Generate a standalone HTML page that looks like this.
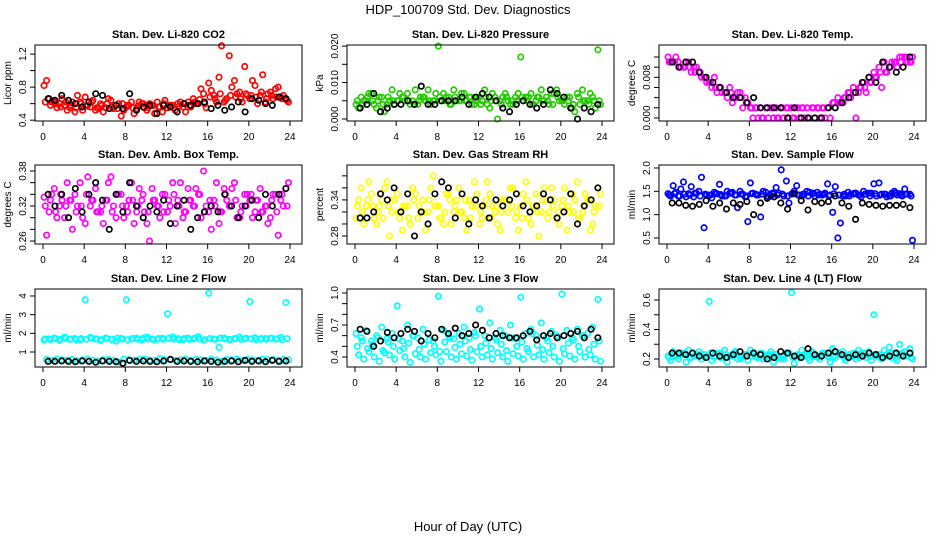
<!DOCTYPE html>
<html><head><meta charset="utf-8">
<style>
html,body{margin:0;padding:0;background:#fff;}
svg{display:block;font-family:"Liberation Sans",Arial,sans-serif;}
</style></head>
<body>
<svg id="chart" width="936" height="540" viewBox="0 0 936 540" xmlns="http://www.w3.org/2000/svg">
<rect width="936" height="540" fill="#fff"/>
<text x="468" y="14" text-anchor="middle" font-size="13">HDP_100709  Std. Dev. Diagnostics</text>
<text x="468" y="531" text-anchor="middle" font-size="13">Hour of Day (UTC)</text>
</svg>
<script>
const xTicks = [0,4,8,12,16,20,24];
const titles = ["Stan. Dev. Li-820 CO2","Stan. Dev. Li-820 Pressure","Stan. Dev. Li-820 Temp.","Stan. Dev. Amb. Box Temp.","Stan. Dev. Gas Stream RH","Stan. Dev. Sample Flow","Stan. Dev. Line 2 Flow","Stan. Dev. Line 3 Flow","Stan. Dev. Line 4 (LT) Flow"];
const yLabels = ["Licor ppm","kPa","degrees C","degrees C","percent","ml/min","ml/min","ml/min","ml/min"];
const colors = ["#ff0000","#22cc00","#ff00ff","#ff00ff","#ffff00","#0000ff","#00ffff","#00ffff","#00ffff"];
const yLims = [[0.39,1.31],[-0.00055,0.0203],[-0.0006,0.01436],[0.2549,0.3903],[0.2667,0.398],[0.371,2.064],[0.196,4.375],[0.306,1.0375],[0.1458,0.6746]];
const yTicks = [[0.4,0.6,0.8,1.0,1.2],[0,0.005,0.01,0.015,0.02],[0,0.002,0.004,0.006,0.008,0.01,0.012],[0.26,0.28,0.30,0.32,0.34,0.36,0.38],[0.28,0.30,0.32,0.34,0.36,0.38],[0.5,1.0,1.5,2.0],[1,2,3,4],[0.4,0.5,0.6,0.7,0.8,0.9,1.0],[0.2,0.3,0.4,0.5,0.6]];
const yTickLabels = [["0.4","","0.8","","1.2"],["0.000","","0.010","","0.020"],["0.000","","","","0.008","",""],["0.26","","","0.32","","","0.38"],["0.28","","","0.34","",""],["0.5","1.0","1.5","2.0"],["1","2","3","4"],["0.4","","","0.7","","","1.0"],["0.2","","0.4","","0.6"]];

const seriesA = [
[0.82,0.66,0.62,0.60,0.58,0.55,0.50,0.62,0.68,0.56,0.52,0.60,0.55,0.64,0.58,0.45,0.56,0.62,0.54,0.60,0.52,0.58,0.62,0.50,0.55,0.58,0.60,0.56,0.62,0.66,0.60,0.72,0.85,0.70,0.92,0.62,1.18,0.88,0.74,1.05,0.66,0.82,0.70,0.62,0.74,0.78,0.68,0.66],
[.004,.006,.005,.007,.003,.006,.004,.008,.005,.006,.007,.005,.004,.006,.008,.005,.020,.007,.006,.008,.005,.007,.006,.004,.006,.008,.003,.006,.005,.007,.004,.006,.017,.006,.007,.005,.008,.006,.007,.008,.005,.006,.003,.007,.008,.005,.006,.019],
[.012,.011,.011,.010,.011,.010,.009,.008,.007,.008,.006,.005,.006,.004,.005,.004,.002,.002,.002,.002,.002,.002,.002,.002,.002,.002,.002,.002,.002,.002,.002,.002,.003,.004,.003,.005,.006,.005,.007,.008,.009,.010,.011,.010,.011,.012,.012,.011],
[.335,.31,.35,.32,.30,.33,.34,.36,.29,.32,.35,.31,.33,.37,.30,.34,.32,.36,.31,.33,.29,.35,.32,.34,.31,.36,.33,.30,.35,.32,.34,.38,.31,.33,.29,.35,.32,.36,.30,.34,.33,.31,.35,.32,.30,.34,.33,.35],
[.31,.36,.33,.35,.30,.34,.37,.32,.35,.29,.33,.36,.31,.34,.32,.38,.33,.30,.35,.32,.36,.31,.34,.37,.30,.33,.35,.32,.29,.34,.36,.31,.33,.37,.30,.35,.32,.34,.36,.31,.33,.29,.35,.37,.32,.34,.30,.36],
[1.45,1.62,1.40,1.70,1.45,1.38,1.50,0.72,1.42,1.48,1.65,1.40,1.46,1.42,1.50,1.38,1.68,1.44,0.95,1.48,1.40,1.58,1.96,1.72,1.44,1.62,1.40,1.50,1.45,1.48,1.42,1.66,1.05,0.50,1.40,1.48,1.44,1.42,1.50,1.46,1.66,1.68,1.44,1.40,1.50,1.45,1.55,1.44],
[1.65,1.70,1.75,1.62,1.80,1.68,1.72,1.65,3.80,1.78,1.70,1.62,1.75,1.68,1.58,1.72,3.80,1.70,1.75,1.65,1.80,1.70,1.68,1.74,3.05,1.80,1.72,1.66,1.75,1.70,1.82,1.64,4.15,1.70,1.25,1.75,1.68,1.72,1.80,1.70,3.70,1.76,1.68,1.72,1.74,1.70,1.78,3.65],
[.62,.58,.65,.55,.60,.68,.57,.62,.88,.55,.70,.60,.58,.66,.62,.55,.97,.65,.60,.57,.62,.68,.58,.63,.85,.60,.72,.58,.65,.60,.70,.57,.96,.62,.66,.60,.72,.58,.64,.60,.99,.65,.58,.66,.60,.62,.68,.94],
[.22,.25,.20,.24,.26,.22,.25,.23,.59,.21,.24,.26,.22,.25,.20,.23,.26,.22,.24,.21,.25,.23,.20,.24,.65,.22,.26,.23,.25,.21,.24,.22,.27,.23,.25,.21,.24,.26,.22,.25,.50,.23,.26,.28,.24,.30,.25,.27]
];
const seriesB = [
[0.88,0.62,0.55,0.66,0.52,0.62,0.70,0.52,0.58,0.64,0.54,0.50,0.66,0.54,0.60,0.52,0.58,0.48,0.62,0.55,0.60,0.48,0.56,0.64,0.58,0.52,0.62,0.50,0.56,0.60,0.78,0.55,0.76,0.62,1.30,0.66,0.80,0.72,0.62,0.70,0.88,0.60,0.95,0.72,0.66,0.80,0.70,0.62],
[.003,.005,.007,.004,.006,.002,.005,.004,.007,.005,.004,.008,.006,.005,.004,.007,.005,.006,.004,.005,.007,.005,.004,.006,.005,.004,.007,.000,.006,.005,.004,.007,.005,.006,.004,.006,.005,.004,.007,.005,.004,.006,.002,.004,.005,.007,.003,.004],
[.011,.012,.010,.011,.009,.010,.008,.007,.006,.005,.005,.004,.003,.005,.002,.003,.000,.000,.000,.000,.000,.000,.000,.000,.000,.000,.000,.000,.000,.000,.000,.000,.002,.003,.004,.004,.000,.006,.005,.007,.008,.006,.009,.011,.010,.012,.011,.012],
[.27,.34,.30,.33,.36,.28,.32,.30,.37,.33,.31,.29,.36,.32,.34,.30,.33,.29,.35,.31,.26,.33,.30,.34,.32,.29,.36,.31,.33,.35,.30,.32,.28,.36,.31,.33,.35,.30,.32,.34,.30,.33,.31,.29,.34,.27,.32,.36],
[.34,.30,.37,.31,.33,.36,.28,.34,.31,.33,.30,.35,.32,.29,.36,.33,.31,.35,.30,.34,.32,.29,.33,.35,.31,.37,.33,.30,.34,.32,.36,.29,.35,.31,.33,.28,.36,.32,.34,.30,.36,.32,.34,.31,.35,.29,.33,.35],
[1.40,1.48,1.55,1.38,1.60,1.46,1.80,1.42,1.36,1.45,1.40,1.50,1.48,1.15,1.44,0.85,1.46,1.42,1.50,1.38,1.44,1.46,1.40,1.25,1.50,1.42,1.44,1.48,1.40,1.44,1.46,1.42,1.60,0.82,1.40,1.44,1.46,1.38,1.44,1.46,1.40,1.44,1.38,1.46,1.42,1.40,1.44,0.45],
[.60,.55,.62,.58,.56,.60,.52,.58,.62,.55,.50,.58,.60,.55,.45,.62,.58,.55,.60,.62,.57,.55,.65,.58,.60,.55,.58,.62,.56,.60,.58,.55,.62,.57,.50,.60,.58,.62,.55,.60,.58,.56,.62,.58,.60,.55,.60,.58],
[.42,.38,.45,.40,.36,.44,.42,.38,.46,.40,.35,.43,.40,.38,.44,.42,.36,.45,.40,.38,.43,.41,.37,.45,.40,.42,.38,.44,.40,.36,.43,.41,.38,.45,.40,.42,.38,.44,.40,.36,.43,.41,.38,.45,.40,.42,.38,.36],
[.19,.22,.24,.18,.21,.23,.20,.22,.19,.24,.21,.18,.23,.20,.22,.19,.24,.21,.20,.23,.18,.22,.20,.24,.17,.21,.23,.19,.22,.20,.24,.18,.21,.23,.19,.22,.20,.24,.21,.19,.22,.20,.23,.21,.19,.24,.22,.20]
];
const seriesC = [
[.62,.58,.60,.56,.62,.58,.55,.60,.57,.62,.55,.58,.60,.56,.54,.60,.58,.55,.57,.60,.55,.58,.56,.60,.58,.55,.57,.60,.58,.62,.65,.60,.68,.66,.72,.64,.70,.68,.66,.72,.70,.68,.74,.66,.70,.68,.66,.64],
[.005,.004,.006,.005,.005,.004,.006,.005,.005,.006,.005,.004,.005,.006,.005,.005,.006,.005,.004,.006,.005,.005,.006,.005,.004,.006,.005,.005,.004,.006,.005,.005,.006,.005,.004,.006,.005,.005,.004,.006,.005,.005,.004,.006,.005,.004,.005,.005],
[.011,.011,.010,.010,.010,.009,.009,.008,.007,.006,.006,.005,.005,.004,.004,.003,.002,.002,.000,.002,.002,.000,.002,.002,.000,.002,.002,.000,.002,.002,.002,.002,.003,.003,.004,.005,.005,.006,.006,.007,.008,.009,.009,.010,.011,.011,.012,.011],
[.32,.33,.31,.34,.32,.33,.31,.32,.34,.33,.31,.32,.33,.31,.34,.32,.31,.33,.32,.34,.31,.33,.32,.31,.33,.34,.32,.31,.33,.32,.34,.31,.33,.32,.31,.34,.32,.33,.31,.32,.34,.33,.31,.32,.33,.31,.34,.32],
[.33,.32,.34,.33,.32,.31,.33,.34,.32,.33,.31,.34,.33,.32,.34,.33,.31,.32,.34,.33,.32,.34,.31,.33,.32,.34,.31,.33,.32,.34,.33,.32,.31,.34,.33,.32,.34,.31,.33,.32,.34,.33,.32,.31,.33,.34,.32,.33],
[1.42,1.45,1.40,1.44,1.42,1.46,1.40,1.44,1.42,1.45,1.43,1.40,1.46,1.42,1.44,1.40,1.45,1.42,1.44,1.40,1.46,1.42,1.44,1.40,1.45,1.42,1.44,1.40,1.46,1.42,1.44,1.40,1.45,1.42,1.44,1.40,1.46,1.42,1.44,1.40,1.45,1.42,1.44,1.40,1.46,1.42,1.44,1.40],
[1.70,1.66,1.72,1.68,1.74,1.70,1.66,1.72,1.68,1.74,1.70,1.66,1.72,1.68,1.74,1.70,1.66,1.72,1.68,1.74,1.70,1.66,1.72,1.68,1.74,1.70,1.66,1.72,1.68,1.74,1.70,1.66,1.72,1.68,1.74,1.70,1.66,1.72,1.68,1.74,1.70,1.66,1.72,1.68,1.74,1.70,1.66,1.72],
[.50,.55,.48,.52,.58,.46,.54,.50,.57,.48,.53,.60,.47,.52,.56,.50,.45,.54,.58,.49,.52,.55,.47,.60,.50,.53,.48,.56,.52,.46,.58,.50,.54,.48,.62,.51,.47,.55,.50,.58,.48,.53,.56,.50,.60,.47,.52,.55],
[.21,.23,.22,.24,.21,.22,.23,.21,.24,.22,.21,.23,.22,.24,.21,.23,.22,.21,.24,.22,.23,.21,.22,.24,.21,.23,.22,.21,.24,.22,.23,.21,.22,.24,.21,.23,.22,.21,.24,.22,.23,.21,.22,.24,.21,.23,.22,.21]
];
const seriesBlack = [
[0.66,0.64,0.70,0.64,0.60,0.56,0.62,0.72,0.70,0.54,0.58,0.54,0.72,0.52,0.56,0.58,0.48,0.58,0.56,0.50,0.60,0.58,0.60,0.62,0.54,0.58,0.52,0.56,0.62,0.50,0.66,0.64,0.60,0.58,0.68,0.66],
[.003,.004,.007,.002,.003,.004,.004,.005,.004,.009,.004,.004,.005,.005,.005,.006,.004,.006,.007,.006,.005,.003,.002,.004,.005,.004,.003,.004,.008,.007,.006,.003,.000,.003,.002,.004],
[.011,.010,.011,.011,.009,.008,.007,.006,.005,.004,.004,.003,.004,.002,.002,.002,.002,.000,.002,.000,.000,.000,.000,.002,.002,.003,.004,.005,.007,.008,.007,.011,.010,.009,.010,.012],
[.34,.32,.34,.30,.35,.31,.34,.36,.33,.28,.34,.31,.36,.32,.30,.32,.31,.33,.29,.32,.33,.28,.30,.31,.32,.31,.34,.32,.30,.32,.33,.30,.34,.32,.34,.35],
[.31,.31,.32,.35,.34,.36,.32,.35,.28,.32,.30,.35,.37,.36,.31,.35,.30,.34,.33,.31,.34,.33,.34,.35,.33,.32,.33,.35,.34,.31,.32,.35,.30,.33,.34,.36],
[1.25,1.25,1.20,1.18,1.22,1.30,1.18,1.25,1.12,1.25,1.22,1.28,1.00,1.25,1.35,1.38,1.25,1.12,1.45,1.30,1.10,1.28,1.25,1.28,1.40,1.25,1.18,0.90,1.25,1.22,1.20,1.18,1.20,1.20,1.22,1.15],
[.50,.50,.52,.50,.48,.52,.50,.45,.52,.50,.48,.40,.55,.50,.52,.50,.48,.52,.60,.50,.52,.50,.48,.52,.50,.45,.50,.52,.48,.55,.50,.52,.48,.55,.50,.52],
[.66,.64,.50,.55,.63,.58,.62,.66,.64,.55,.62,.58,.66,.62,.67,.60,.62,.70,.65,.58,.62,.60,.58,.58,.60,.64,.56,.60,.62,.58,.60,.62,.64,.58,.66,.58],
[.24,.24,.23,.24,.22,.21,.24,.22,.21,.23,.25,.22,.24,.23,.20,.21,.25,.24,.22,.21,.27,.23,.22,.24,.25,.23,.21,.23,.22,.24,.23,.21,.22,.24,.22,.24]
];

const NS = "http://www.w3.org/2000/svg";
const svg = document.getElementById('chart');
const rowTop = [45,165,289], rowBot = [121,244,367];
function mk(tag, attrs, parent){const e=document.createElementNS(NS,tag);for(const k in attrs)e.setAttribute(k,attrs[k]);(parent||svg).appendChild(e);return e;}

for(let p=0;p<9;p++){
  const col=p%3,row=Math.floor(p/3);
  const L=35+col*312,R=302+col*312,T=rowTop[row],B=rowBot[row];
  const x0=L+8,x1=R-12;
  const xs=v=>x0+(x1-x0)*v/24;
  const [ymin,ymax]=yLims[p];
  const ys=v=>B-(B-T)*(v-ymin)/(ymax-ymin);
  const g=mk('g',{});
  
  
  const t=mk('text',{x:(L+R)/2,y:T-7,'text-anchor':'middle','font-size':'11','font-weight':'bold'},g);
  t.textContent=titles[p];
  
  
  const yl=mk('text',{x:0,y:0,transform:`translate(${L-24},${(T+B)/2}) rotate(-90)`,'text-anchor':'middle','font-size':'10'},g);
  yl.textContent=yLabels[p];
  
  
  const xa=mk('g',{},g);
  
  
  xTicks.forEach(v=>{
    mk('line',{x1:xs(v),x2:xs(v),y1:B,y2:B+5,stroke:'#000','stroke-width':1},xa);
    const tx=mk('text',{x:xs(v),y:B+19,'text-anchor':'middle','font-size':'10'},xa);
    tx.textContent=v;
    
    
  });
  const ya=mk('g',{},g);
  
  
  yTicks[p].forEach((v,i)=>{
    mk('line',{x1:L-5,x2:L,y1:ys(v),y2:ys(v),stroke:'#000','stroke-width':1},ya);
    if(yTickLabels[p][i]){
      const ty=mk('text',{x:0,y:0,transform:`translate(${L-9},${ys(v)}) rotate(-90)`,'text-anchor':'middle','font-size':'10'},ya);
      ty.textContent=yTickLabels[p][i];
      
      
    }
  });
  const pts=mk('g',{fill:'none','stroke-width':1.7},g);
  
  
  const addPt=(t,v,c)=>{
    const y=ys(v); if(y<T-2||y>B+2) return;
    const c1=mk('circle',{cx:xs(t),cy:y,r:2.7,stroke:c},pts);
    
    
  };
  seriesA[p].forEach((v,i)=>addPt(i*0.5+0.1,v,colors[p]));
  seriesC[p].forEach((v,i)=>addPt(i*0.5+0.22,v,colors[p]));
  seriesB[p].forEach((v,i)=>addPt(i*0.5+0.35,v,colors[p]));
  seriesBlack[p].forEach((v,i)=>addPt(0.5+i*0.66,v,'#000'));
  const box=mk('rect',{x:L,y:T,width:R-L,height:B-T,fill:'none',stroke:'#000','stroke-width':1},g);
  
  
}
</script>
</body></html>
